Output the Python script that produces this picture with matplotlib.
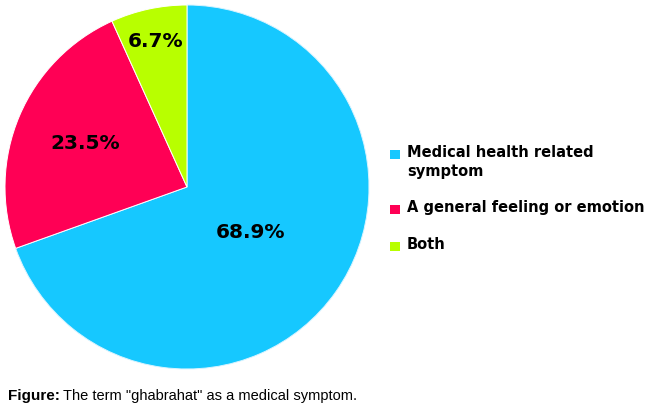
import numpy as np
import matplotlib
matplotlib.use("Agg")
import matplotlib.pyplot as plt
from matplotlib.patches import Rectangle

# data
categories = ["Medical health related\nsymptom", "A general feeling or emotion", "Both"]
values = [68.9, 23.5, 6.7]
pct_labels = ["68.9%", "23.5%", "6.7%"]
colors = ["#16C8FF", "#FF0055", "#B8FF00"]
label_dist = [0.43, 0.61, 0.82]

fig = plt.figure(figsize=(6.5, 4.12), dpi=100)
ax = fig.add_axes([5 / 650, 43 / 412, 364 / 650, 364 / 412])

wedges, _ = ax.pie(values, colors=colors, startangle=90, counterclock=False,
                   wedgeprops=dict(edgecolor="white", linewidth=0.7))
wedges[0].set_edgecolor("#d8f4ff")

# percentage labels at each wedge's middle angle
for w, txt, d in zip(wedges, pct_labels, label_dist):
    ang = np.deg2rad((w.theta1 + w.theta2) / 2)
    ax.text(d * np.cos(ang), d * np.sin(ang), txt, ha="center", va="center",
            fontsize=14.5, fontweight="bold", family="DejaVu Sans", color="black")

ax.set_xlim(-1.0, 1.0)
ax.set_ylim(-1.0, 1.0)
ax.set_aspect("equal")
ax.axis("off")

# legend, drawn by hand so the square sits at the first line
leg_y = [155, 210, 247]
for lab, col, y in zip(categories, colors, leg_y):
    fig.patches.append(Rectangle((390 / 650, 1 - (y + 4) / 412), 10 / 650, 9 / 412,
                                 transform=fig.transFigure, facecolor=col,
                                 edgecolor="none"))
    fig.text(407 / 650, 1 - (y - 10) / 412, lab, ha="left", va="top",
             fontsize=10.5, fontweight="bold", family="DejaVu Sans",
             linespacing=1.35)

# caption
cap_y = 1 - 396 / 412
t1 = fig.text(8 / 650, cap_y, "Figure:", ha="left", va="center",
              fontsize=11, fontweight="bold", family="Liberation Sans")
fig.canvas.draw()
bb = t1.get_window_extent()
fig.text((bb.x1 + 3) / 650, cap_y, 'The term "ghabrahat" as a medical symptom.',
         ha="left", va="center", fontsize=10.5, family="Liberation Sans")

fig.savefig("out.png", dpi=100)
